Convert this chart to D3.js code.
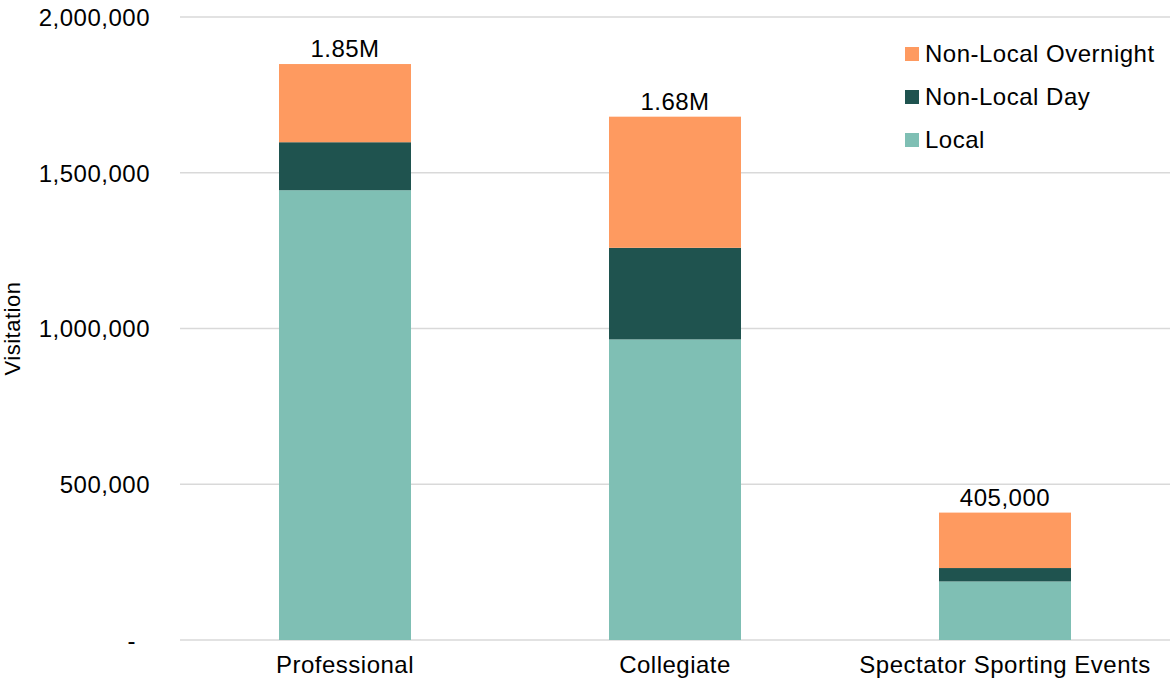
<!DOCTYPE html>
<html>
<head>
<meta charset="utf-8">
<script src="https://cdn.jsdelivr.net/npm/d3@7"></script>
<style>
  body { margin: 0; background: #fff; }
  text { font-family: "Liberation Sans", Arial, sans-serif; fill: #000; letter-spacing: 0.5px; }
</style>
</head>
<body>
<div id="chart"></div>
<script>
const categories = ["Professional", "Collegiate", "Spectator Sporting Events"];
const local = [1444000, 965000, 188000];
const nonLocalDay = [154000, 294000, 43000];
const nonLocalOvernight = [251000, 421000, 178000];
const totalLabels = ["1.85M", "1.68M", "405,000"];
const yTicks = [0, 500000, 1000000, 1500000, 2000000];
const seriesNames = ["Local", "Non-Local Day", "Non-Local Overnight"];
const colors = ["#7fbfb4", "#1f534f", "#fe9a60"];

const width = 1171, height = 685;
const margin = {top: 17, right: 1, bottom: 45, left: 180};

const rows = categories.map((c, i) => ({
  cat: c,
  "Local": local[i],
  "Non-Local Day": nonLocalDay[i],
  "Non-Local Overnight": nonLocalOvernight[i]
}));
const stacked = d3.stack().keys(seriesNames)(rows);

const xScale = d3.scaleBand().domain(categories)
  .range([margin.left, width - margin.right])
  .paddingInner(0.6).paddingOuter(0.3);
const yScale = d3.scaleLinear().domain([0, 2000000])
  .range([height - margin.bottom, margin.top]);

const svg = d3.select("#chart").append("svg")
  .attr("width", width).attr("height", height);

// gridlines
svg.append("g").selectAll("line").data(yTicks).join("line")
  .attr("x1", margin.left).attr("x2", width - margin.right)
  .attr("y1", d => yScale(d)).attr("y2", d => yScale(d))
  .style("stroke", "#d9d9d9").style("stroke-width", "1.3px");

// y axis labels
const yAxis = d3.axisLeft(yScale).tickValues(yTicks)
  .tickSize(0).tickPadding(30)
  .tickFormat(d => d === 0 ? "-" : d3.format(",")(d));
const yg = svg.append("g")
  .attr("transform", "translate(" + margin.left + ",0)")
  .call(yAxis);
yg.select(".domain").remove();
yg.selectAll("text").style("font-size", "24px")
  .attr("font-family", null).attr("dy", "0.35em")
  .attr("dx", d => d === 0 ? "-14" : null);

// bars
svg.append("g").selectAll("g").data(stacked).join("g")
  .style("fill", (d, i) => colors[i])
  .selectAll("rect").data(d => d).join("rect")
    .attr("x", d => xScale(d.data.cat))
    .attr("width", xScale.bandwidth())
    .attr("y", d => yScale(d[1]))
    .attr("height", d => yScale(d[0]) - yScale(d[1]));

// total labels
const topLayer = stacked[stacked.length - 1];
svg.append("g").selectAll("text").data(topLayer).join("text")
  .attr("x", d => xScale(d.data.cat) + xScale.bandwidth() / 2)
  .attr("y", d => yScale(d[1]) - 7)
  .attr("text-anchor", "middle")
  .style("font-size", "24px")
  .text((d, i) => totalLabels[i]);

// x axis labels
const xAxis = d3.axisBottom(xScale).tickSize(0).tickPadding(16);
const xg = svg.append("g")
  .attr("transform", "translate(0," + (height - margin.bottom) + ")")
  .call(xAxis);
xg.select(".domain").remove();
xg.selectAll("text").style("font-size", "24px").attr("font-family", null);

// axis title
svg.append("text")
  .attr("transform", "translate(20," + yScale(1000000) + ") rotate(-90)")
  .attr("text-anchor", "middle")
  .style("font-size", "22px")
  .text("Visitation");

// legend
const legendItems = seriesNames.map((n, i) => ({name: n, color: colors[i]})).reverse();
const lg = svg.append("g").attr("transform", "translate(905,54)");
const li = lg.selectAll("g").data(legendItems).join("g")
  .attr("transform", (d, i) => "translate(0," + i * 43 + ")");
li.append("rect").attr("x", 0).attr("y", -7).attr("width", 14).attr("height", 14)
  .style("fill", d => d.color);
li.append("text").attr("x", 20).attr("y", 0).attr("dy", "0.35em")
  .style("font-size", "24px").text(d => d.name);
</script>
</body>
</html>
